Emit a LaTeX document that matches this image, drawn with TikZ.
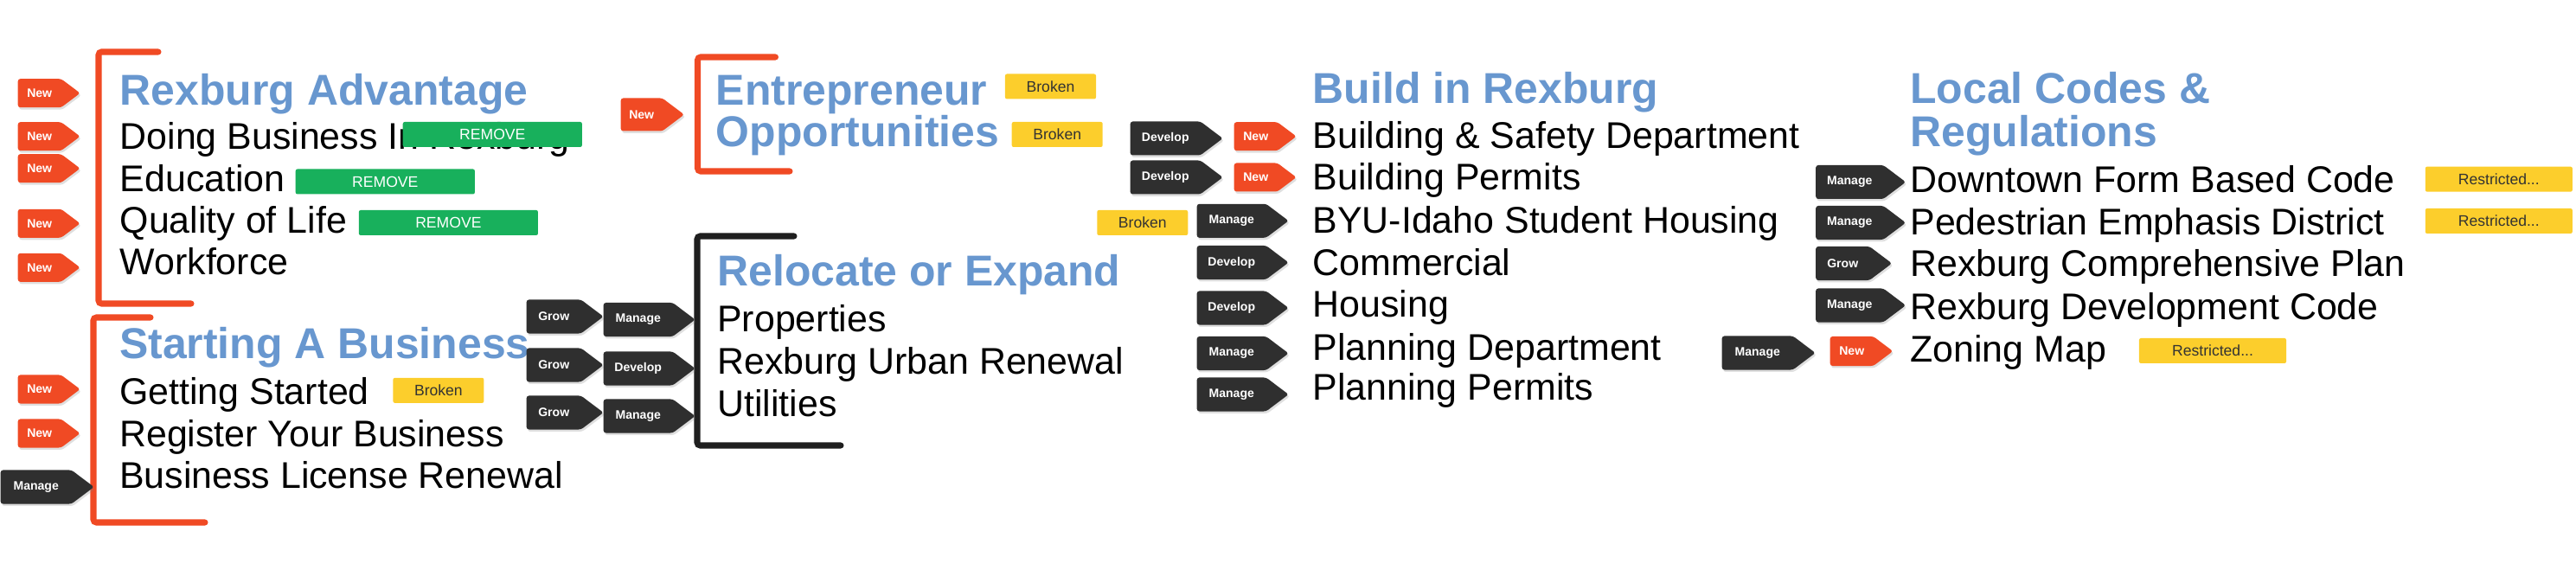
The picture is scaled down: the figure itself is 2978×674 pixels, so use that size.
\documentclass[tikz,border=0pt]{standalone}
\usepackage{fontspec}
\setmainfont{Liberation Sans}
\usepackage{xcolor}
\usepackage{tikz}
\usetikzlibrary{shapes.symbols, shadows, positioning}

\definecolor{headblue}{RGB}{104,151,207}
\definecolor{neworange}{RGB}{240,74,36}
\definecolor{tagdark}{RGB}{47,47,47}
\definecolor{removegreen}{RGB}{24,176,92}
\definecolor{brokenyellow}{RGB}{252,206,44}

\begin{document}
\begin{tikzpicture}[
            x=0.01cm, y=-0.01cm,
            item/.style={anchor=base west, inner sep=0pt, font=\fontsize{12.2}{14}\selectfont},
            heading/.style={anchor=base west, inner sep=0pt, text=headblue, font=\bfseries\fontsize{14.2}{16}\selectfont},
            badge/.style={signal, signal to=east, signal pointer angle=74, inner sep=0pt, anchor=west, align=center,
                text=white, font=\bfseries\fontsize{4}{5}\selectfont, rounded corners=0.8pt,
                drop shadow={shadow xshift=0.4pt, shadow yshift=-0.7pt, opacity=0.25}},
            newtag/.style={badge, fill=neworange, text width=0.5cm, minimum height=0.33cm},
            darktag/.style={badge, fill=tagdark, text width=#1, minimum height=0.39cm},
            flag/.style={inner sep=0pt, font=\fontsize{5}{6}\selectfont, rounded corners=0.6pt},
            removebox/.style={flag, fill=removegreen, text=white, minimum width=2.07cm, minimum height=0.29cm},
            brokenbox/.style={flag, fill=brokenyellow, text=black!80, minimum width=1.05cm, minimum height=0.29cm},
            restrictbox/.style={flag, fill=brokenyellow, text=black!80, minimum width=1.70cm, minimum height=0.29cm},
            bracket/.style={line width=2pt, line cap=round, rounded corners=1pt}
        ]

        \useasboundingbox (0,0) rectangle (2978,674);

        % Rexburg Advantage
        \draw[bracket, neworange] (183,60) -- (114,60) -- (114,351) -- (221,351);
        \node[heading] (adv) at (138,122) {Rexburg Advantage};
        \node[item] (adv1) at (138,172.7) {Doing Business In Rexburg};
        \node[item] (adv2) at (138,221.7) {Education};
        \node[item] (adv3) at (138,270) {Quality of Life};
        \node[item] (adv4) at (138,318) {Workforce};
        \node[newtag] (advnew) at (20,107.7) {New};
        \node[newtag] (adv1new) at (20,157.7) {New};
        \node[newtag] (adv2new) at (20,194.7) {New};
        \node[newtag] (adv3new) at (20,258.3) {New};
        \node[newtag] (adv4new) at (20,309.3) {New};
        \node[removebox] (adv1rm) at (569.3,155.5) {REMOVE};
        \node[removebox] (adv2rm) at (445.3,210) {REMOVE};
        \node[removebox] (adv3rm) at (518.4,257.5) {REMOVE};

        % Starting A Business
        \draw[bracket, neworange] (174,367) -- (108,367) -- (108,604) -- (237,604);
        \node[heading] (start) at (137.5,415) {Starting A Business};
        \node[item] (start1) at (137.5,467.7) {Getting Started};
        \node[item] (start2) at (137.5,516.7) {Register Your Business};
        \node[item] (start3) at (137.5,565) {Business License Renewal};
        \node[newtag] (start1new) at (20,450) {New};
        \node[newtag] (start2new) at (20,501) {New};
        \node[darktag=0.82cm] (start3man) at (0,563) {Manage};
        \node[brokenbox] (start1br) at (506.9,451.4) {Broken};

        % Entrepreneur Opportunities
        \draw[bracket, neworange] (896.5,66) -- (806.5,66) -- (806.5,198) -- (913,198);
        \node[newtag, minimum height=0.38cm, text width=0.48cm] (entnew) at (717,132.5) {New};
        \node[heading] (ent1) at (827,121.7) {Entrepreneur};
        \node[heading] (ent2) at (827,170) {Opportunities};
        \node[brokenbox] (ent1br) at (1214.5,100) {Broken};
        \node[brokenbox] (ent2br) at (1222.2,155.5) {Broken};

        % Relocate or Expand
        \draw[bracket, black!88] (918,273) -- (806,273) -- (806,515) -- (972,515);
        \node[heading] (reloc) at (828.6,330.7) {Relocate or Expand};
        \node[item] (reloc1) at (828.6,384) {Properties};
        \node[item] (reloc2) at (828.6,433) {Rexburg Urban Renewal};
        \node[item] (reloc3) at (828.6,481.7) {Utilities};
        \node[darktag=0.63cm] (reloc1grow) at (608,366) {Grow};
        \node[darktag=0.63cm] (reloc2grow) at (608,422) {Grow};
        \node[darktag=0.63cm] (reloc3grow) at (608,477) {Grow};
        \node[darktag=0.80cm] (reloc1man) at (697,369.5) {Manage};
        \node[darktag=0.80cm] (reloc2dev) at (697,426) {Develop};
        \node[darktag=0.80cm] (reloc3man) at (697,481) {Manage};

        % Build in Rexburg
        \node[heading] (build) at (1517,120) {Build in Rexburg};
        \node[item] (build1) at (1517,171.7) {Building \& Safety Department};
        \node[item] (build2) at (1517,220) {Building Permits};
        \node[item] (build3) at (1517,269.3) {BYU-Idaho Student Housing};
        \node[item] (build4) at (1517,318.3) {Commercial};
        \node[item] (build5) at (1517,366.7) {Housing};
        \node[item] (build6) at (1517,416.7) {Planning Department};
        \node[item] (build7) at (1517,463) {Planning Permits};
        \node[darktag=0.81cm] (build1dev) at (1306,160) {Develop};
        \node[darktag=0.81cm] (build2dev) at (1306,205) {Develop};
        \node[newtag] (build1new) at (1426,157.7) {New};
        \node[newtag] (build2new) at (1426,205) {New};
        \node[brokenbox] (build3br) at (1320.8,257.5) {Broken};
        \node[darktag=0.80cm] (build3man) at (1383,255.3) {Manage};
        \node[darktag=0.80cm] (build4dev) at (1383,303.5) {Develop};
        \node[darktag=0.80cm] (build5dev) at (1383,356) {Develop};
        \node[darktag=0.80cm] (build6man) at (1383,408.5) {Manage};
        \node[darktag=0.80cm] (build7man) at (1383,456) {Manage};

        % Local Codes & Regulations
        \node[heading] (codes) at (2207.7,120) {Local Codes \&};
        \node[heading] (codesb) at (2207.7,170) {Regulations};
        \node[item] (codes1) at (2207.7,222.7) {Downtown Form Based Code};
        \node[item] (codes2) at (2207.7,271.7) {Pedestrian Emphasis District};
        \node[item] (codes3) at (2207.7,320) {Rexburg Comprehensive Plan};
        \node[item] (codes4) at (2207.7,369.3) {Rexburg Development Code};
        \node[item] (codes5) at (2207.7,418.3) {Zoning Map};
        \node[darktag=0.78cm] (codes1man) at (2098.5,210.5) {Manage};
        \node[darktag=0.78cm] (codes2man) at (2098.5,257.5) {Manage};
        \node[darktag=0.62cm] (codes3grow) at (2098.5,304.5) {Grow};
        \node[darktag=0.78cm] (codes4man) at (2098.5,353) {Manage};
        \node[darktag=0.82cm] (codes5man) at (1990,408) {Manage};
        \node[newtag, minimum height=0.34cm] (codes5new) at (2115,406) {New};
        \node[restrictbox] (codes1rs) at (2888.8,207.2) {Restricted...};
        \node[restrictbox] (codes2rs) at (2888.8,255.5) {Restricted...};
        \node[restrictbox] (codes5rs) at (2558,405.5) {Restricted...};

    \end{tikzpicture}
\end{document}
